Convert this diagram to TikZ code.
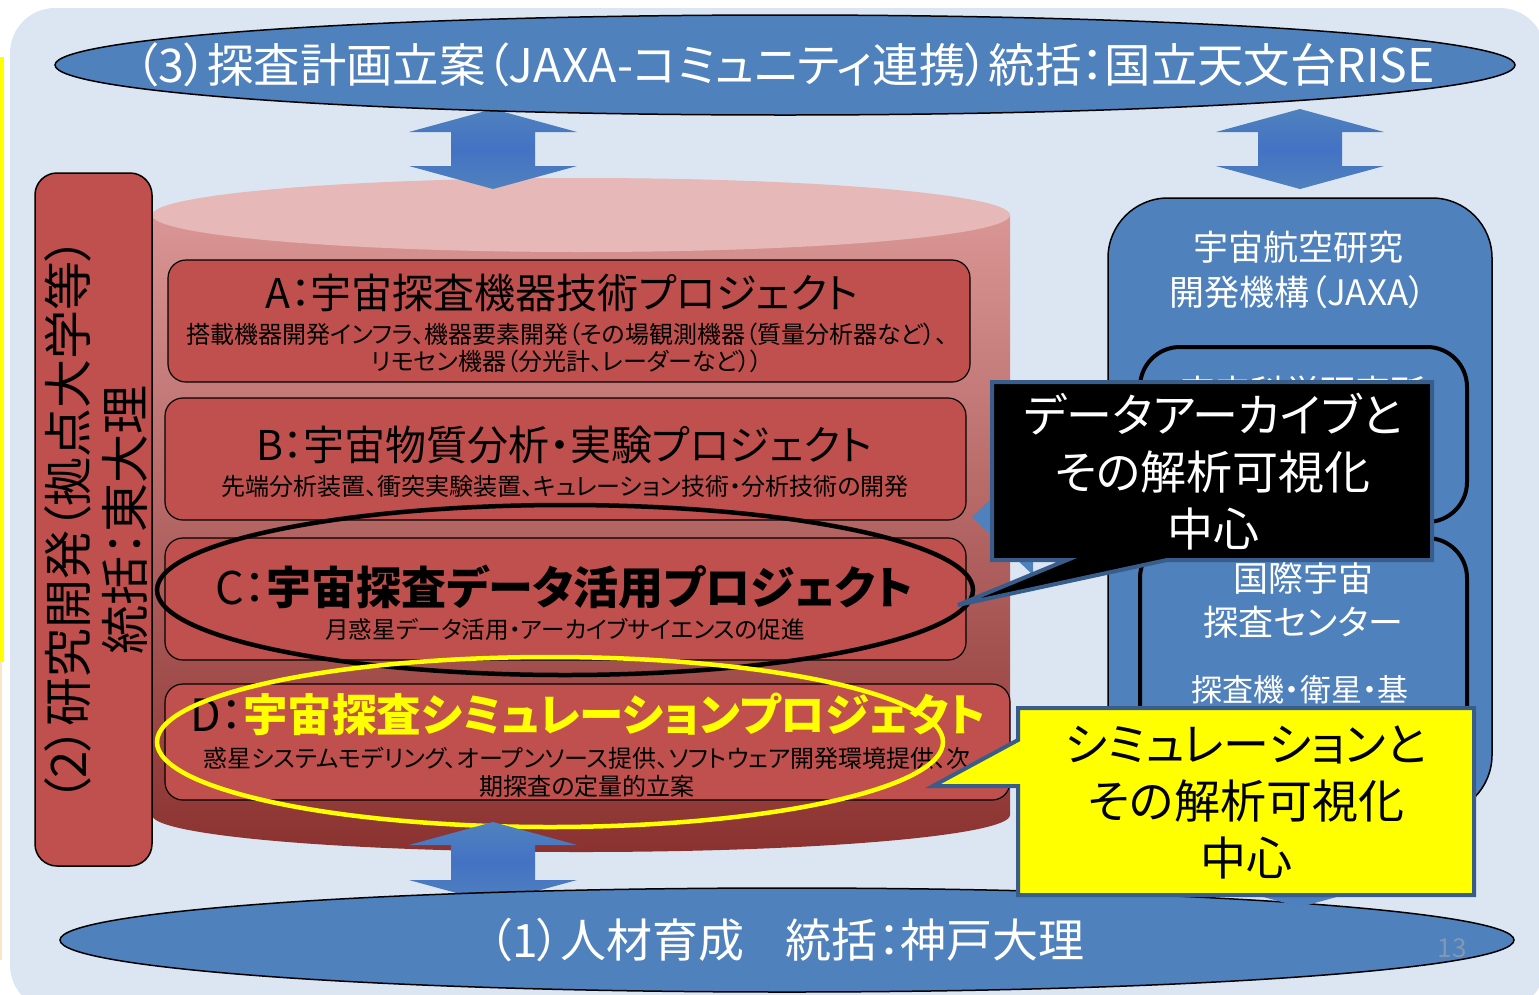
\documentclass[tikz,border=0pt]{standalone}
\usepackage{fontspec}
\setmainfont[RawFeature=+palt]{Noto Sans CJK JP}
\usetikzlibrary{shapes.geometric}
\definecolor{bgblue}{HTML}{DCE6F2}
\definecolor{mblue}{HTML}{4F81BD}
\definecolor{dblue}{HTML}{4472C4}
\definecolor{cborder}{HTML}{385D8A}
\definecolor{bred}{HTML}{C0504D}
\definecolor{ctop}{HTML}{E6B9B8}
\definecolor{cylA}{HTML}{D99694}
\definecolor{cylB}{HTML}{8B3230}
\definecolor{yel}{HTML}{FFFF00}
\definecolor{numgray}{HTML}{8497B0}
\definecolor{peach}{HTML}{FCE4CC}
\newcommand{\fsz}[2]{\fontsize{#1}{#2}\selectfont}
\begin{document}
\begin{tikzpicture}[x=1pt,y=-1pt,
  projbox/.style={fill=bred,draw=black,line width=1.2pt,rounded corners=18pt},
  blockarrow/.style={top color=mblue,bottom color=mblue,middle color=dblue,draw=none},
  bigoval/.style={fill=mblue,draw=black,line width=1.5pt},
  callout/.style={draw=cborder,line width=4pt,line join=miter},
  txt/.style={inner sep=0pt,align=center},
  jaxabox/.style={fill=mblue,draw=black},
  whitetxt/.style={txt,text=white}]
\useasboundingbox (0,0) rectangle (1539,994);
% background
\fill[bgblue,rounded corners=45pt] (10,8) rectangle (1545,1010);
\fill[yel] (0,57) rectangle (4,662);
\fill[peach] (0,662) rectangle (2,960);
% cylinder
\shade[top color=cylA,bottom color=cylB] (152,215) -- (152,815) arc[start angle=180,end angle=0,x radius=429,y radius=37] -- (1010,215) -- cycle;
\fill[ctop] (581,215) ellipse[x radius=429,y radius=37];
% hidden side arrow
\fill[mblue] (972,517) -- (1033,459) -- (1033,487) -- (1110,487) -- (1110,547) -- (1033,547) -- (1033,575) -- cycle;
% left box
\draw[fill=bred,line width=1.5pt,rounded corners=22pt] (35,173) rectangle (152,866);
\node[txt,rotate=90,font=\fsz{49}{57}] (lefttxt) at (96,520) {（2）研究開発（拠点大学等）\\統括：東大理};
% project boxes
\draw[projbox] (168,260) rectangle (970,382);
\draw[projbox] (165,398) rectangle (966,520);
\draw[projbox] (165,538) rectangle (966,660);
\draw[projbox] (165,684) rectangle (1010,800);
\node[txt,font=\fsz{41}{46}] (atitle) at (562,293) {A：宇宙探査機器技術プロジェクト};
\node[txt,font=\fsz{24}{27}] (asub) at (567,348) {搭載機器開発インフラ、機器要素開発（その場観測機器（質量分析器など）、\\リモセン機器（分光計、レーダーなど））};
\node[txt,font=\fsz{41}{46}] (btitle) at (564,445) {B：宇宙物質分析・実験プロジェクト};
\node[txt,font=\fsz{24}{27}] (bsub) at (565,486) {先端分析装置、衝突実験装置、キュレーション技術・分析技術の開発};
\node[txt,font=\fsz{45}{50}] (ctitle) at (564,587) {C：\textbf{宇宙探査データ活用プロジェクト}};
\node[txt,font=\fsz{23.6}{27}] (csub) at (565,629) {月惑星データ活用・アーカイブサイエンスの促進};
\node[txt,anchor=west,font=\fsz{44.5}{50}] (dtitle) at (190,714) {D：\textcolor{yel}{\textbf{宇宙探査シミュレーションプロジェクト}}};
\node[txt,font=\fsz{24}{28}] (dsub) at (587,772) {惑星システムモデリング、オープンソース提供、ソフトウェア開発環境提供、次\\期探査の定量的立案};
% highlight ellipses
\draw[line width=4.5pt] (565,590) ellipse[x radius=408,y radius=85];
\draw[yel,line width=4.5pt] (550,742) ellipse[x radius=393,y radius=85];
% JAXA box
\draw[jaxabox,line width=1.5pt,rounded corners=60pt] (1108,198) rectangle (1492,815);
\node[whitetxt,font=\fsz{35}{45}] (jaxatxt) at (1298,270) {宇宙航空研究\\開発機構（JAXA）};
\draw[jaxabox,line width=4pt,rounded corners=40pt] (1140,347) rectangle (1467,522);
\node[whitetxt,font=\fsz{35}{45}] (isastxt) at (1303,392) {宇宙科学研究所};
\draw[jaxabox,line width=4pt,rounded corners=40pt] (1140,538) rectangle (1467,790);
\node[whitetxt,font=\fsz{35}{44}] (jsectxt) at (1303,600) {国際宇宙\\探査センター};
\node[whitetxt,font=\fsz{31}{40}] (jsecsub) at (1300,690) {探査機・衛星・基};
% block arrows
\shade[blockarrow] (493,109) -- (577,132) -- (535,132) -- (535,166) -- (577,166) -- (493,189) -- (409,166) -- (451,166) -- (451,132) -- (409,132) -- cycle;
\shade[blockarrow] (1300,109) -- (1384,132) -- (1342,132) -- (1342,166) -- (1384,166) -- (1300,189) -- (1216,166) -- (1258,166) -- (1258,132) -- (1216,132) -- cycle;
\shade[blockarrow] (493,822) -- (577,845) -- (535,845) -- (535,880) -- (577,880) -- (493,903) -- (409,880) -- (451,880) -- (451,845) -- (409,845) -- cycle;
% top / bottom ovals
\draw[bigoval] (785,65) ellipse[x radius=730,y radius=50];
\node[whitetxt,font=\fsz{46.4}{50}] (toptxt) at (785,65) {（3）探査計画立案（JAXA-コミュニティ連携）統括：国立天文台RISE};
\draw[bigoval] (787,940) ellipse[x radius=727,y radius=52];
\node[whitetxt,font=\fsz{46}{50}] (bottxt) at (787,940) {（1）人材育成\hspace{0.9em}統括：神戸大理};
\node[txt,text=numgray,font=\fsz{26}{30}] (pagenum) at (1452,948) {13};
\shade[blockarrow] (1300,800) -- (1384,823) -- (1342,823) -- (1342,884) -- (1384,884) -- (1300,907) -- (1216,884) -- (1258,884) -- (1258,823) -- (1216,823) -- cycle;
% callouts
\draw[callout,fill=black] (992,382) -- (1432,382) -- (1432,560) -- (1167,560) -- (958,605) -- (1067,560) -- (992,560) -- cycle;
\node[whitetxt,font=\fsz{46}{57}] (blacktxt) at (1213,472) {データアーカイブと\\その解析可視化\\中心};
\draw[callout,fill=yel] (1018,708) -- (1474,708) -- (1474,895) -- (1018,895) -- (1018,786) -- (933,786) -- (1018,740) -- cycle;
\node[txt,font=\fsz{46}{57}] (yeltxt) at (1246,802) {シミュレーションと\\その解析可視化\\中心};
\end{tikzpicture}
\end{document}
